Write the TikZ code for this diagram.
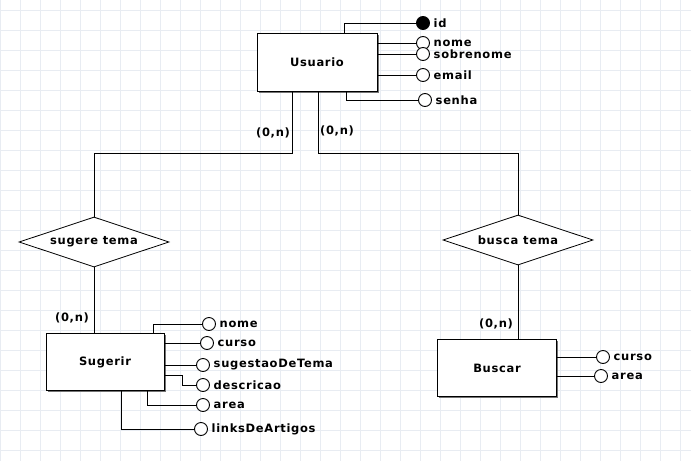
\documentclass[tikz,border=0pt]{standalone}
\usepackage{fontspec}
\setmainfont{DejaVu Sans}[LetterSpace=6.0]
\usepackage{tikz}
\usetikzlibrary{shapes,positioning,shadows}

\definecolor{gridcol}{RGB}{232,236,242}

\tikzset{
  entity/.style={draw, fill=white, line width=0.9pt, minimum width=119pt, minimum height=57pt,
    drop shadow={shadow xshift=1.6pt, shadow yshift=-1.6pt, fill=black!55, opacity=1}},
  rel/.style={diamond, draw, fill=white, line width=0.8pt, aspect=3, inner sep=1pt,
    minimum width=150pt, minimum height=50pt},
  attr/.style={circle, draw, fill=white, line width=0.9pt, minimum size=13pt, inner sep=0pt,
    label distance=1pt},
  keyattr/.style={attr, fill=black},
  card/.style={inner sep=0pt},
  gridline/.style={draw=gridcol, line width=0.7pt}
}

\begin{document}
\begin{tikzpicture}[x=1pt, y=-1pt, line width=0.9pt, font=\fontsize{11.5}{13}\selectfont\bfseries]
\useasboundingbox (0,0) rectangle (691,461);
% grid
\foreach \gx in {0,20,...,680} \draw[gridline] (\gx,0) -- (\gx,461);
\foreach \gy in {10,30,...,450} \draw[gridline] (0,\gy) -- (691,\gy);

% nodes
\node[entity, minimum width=120pt, minimum height=58pt] (usuario) at (317,62) {Usuario};
\node[rel] (sugere) at (94,242) {sugere tema};
\node[rel] (busca) at (518,240) {busca tema};
\node[entity, minimum width=118pt] (sugerir) at (105,362) {Sugerir};
\node[entity] (buscar) at (497,368) {Buscar};

% atributos usuario
\node[keyattr, label=right:id] (uid) at (423,23) {};
\node[attr, label=right:nome] (unome) at (423,43) {};
\node[attr, label=right:sobrenome] (usobrenome) at (423,54) {};
\node[attr, label=right:email] (uemail) at (423,75) {};
\node[attr, label=right:senha] (usenha) at (425,100) {};

% atributos sugerir
\node[attr, label=right:nome] (snome) at (209,324) {};
\node[attr, label=right:curso] (scurso) at (207,343) {};
\node[attr, label=right:sugestaoDeTema] (ssugestao) at (203,365) {};
\node[attr, label=right:descricao] (sdescricao) at (203,385) {};
\node[attr, label=right:area] (sarea) at (203,405) {};
\node[attr, label=right:linksDeArtigos] (slinks) at (201,429) {};

% atributos buscar
\node[attr, label=right:curso] (bcurso) at (603,357) {};
\node[attr, label=right:area] (barea) at (601,376) {};

% cardinalidades
\node[card] (c1) at (273,133) {(0,n)};
\node[card] (c2) at (337,131) {(0,n)};
\node[card] (c3) at (72,318) {(0,n)};
\node[card] (c4) at (496,324) {(0,n)};

% ligacoes
\draw ([shift={(-25,0)}]usuario.south) -- ++(0,62) -| (sugere.north);
\draw ([shift={(1,0)}]usuario.south) -- ++(0,62) -| (busca.north);
\draw (sugere.south) -- (sugere.south |- sugerir.north);
\draw (busca.south) -- (busca.south |- buscar.north);

\draw ([shift={(27,0)}]usuario.north) |- (uid);
\draw (usuario.east |- unome) -- (unome);
\draw (usuario.east |- usobrenome) -- (usobrenome);
\draw (usuario.east |- uemail) -- (uemail);
\draw ([shift={(29,0)}]usuario.south) |- (usenha);

\draw ([shift={(48,0)}]sugerir.north) |- (snome);
\draw (sugerir.east |- scurso) -- (scurso);
\draw (sugerir.east |- ssugestao) -- (ssugestao);
\draw ([shift={(0,13)}]sugerir.east) -- ++(18,0) |- (sdescricao);
\draw ([shift={(42,0)}]sugerir.south) |- (sarea);
\draw ([shift={(16,0)}]sugerir.south) |- (slinks);

\draw (buscar.east |- bcurso) -- (bcurso);
\draw (buscar.east |- barea) -- (barea);
\end{tikzpicture}
\end{document}
